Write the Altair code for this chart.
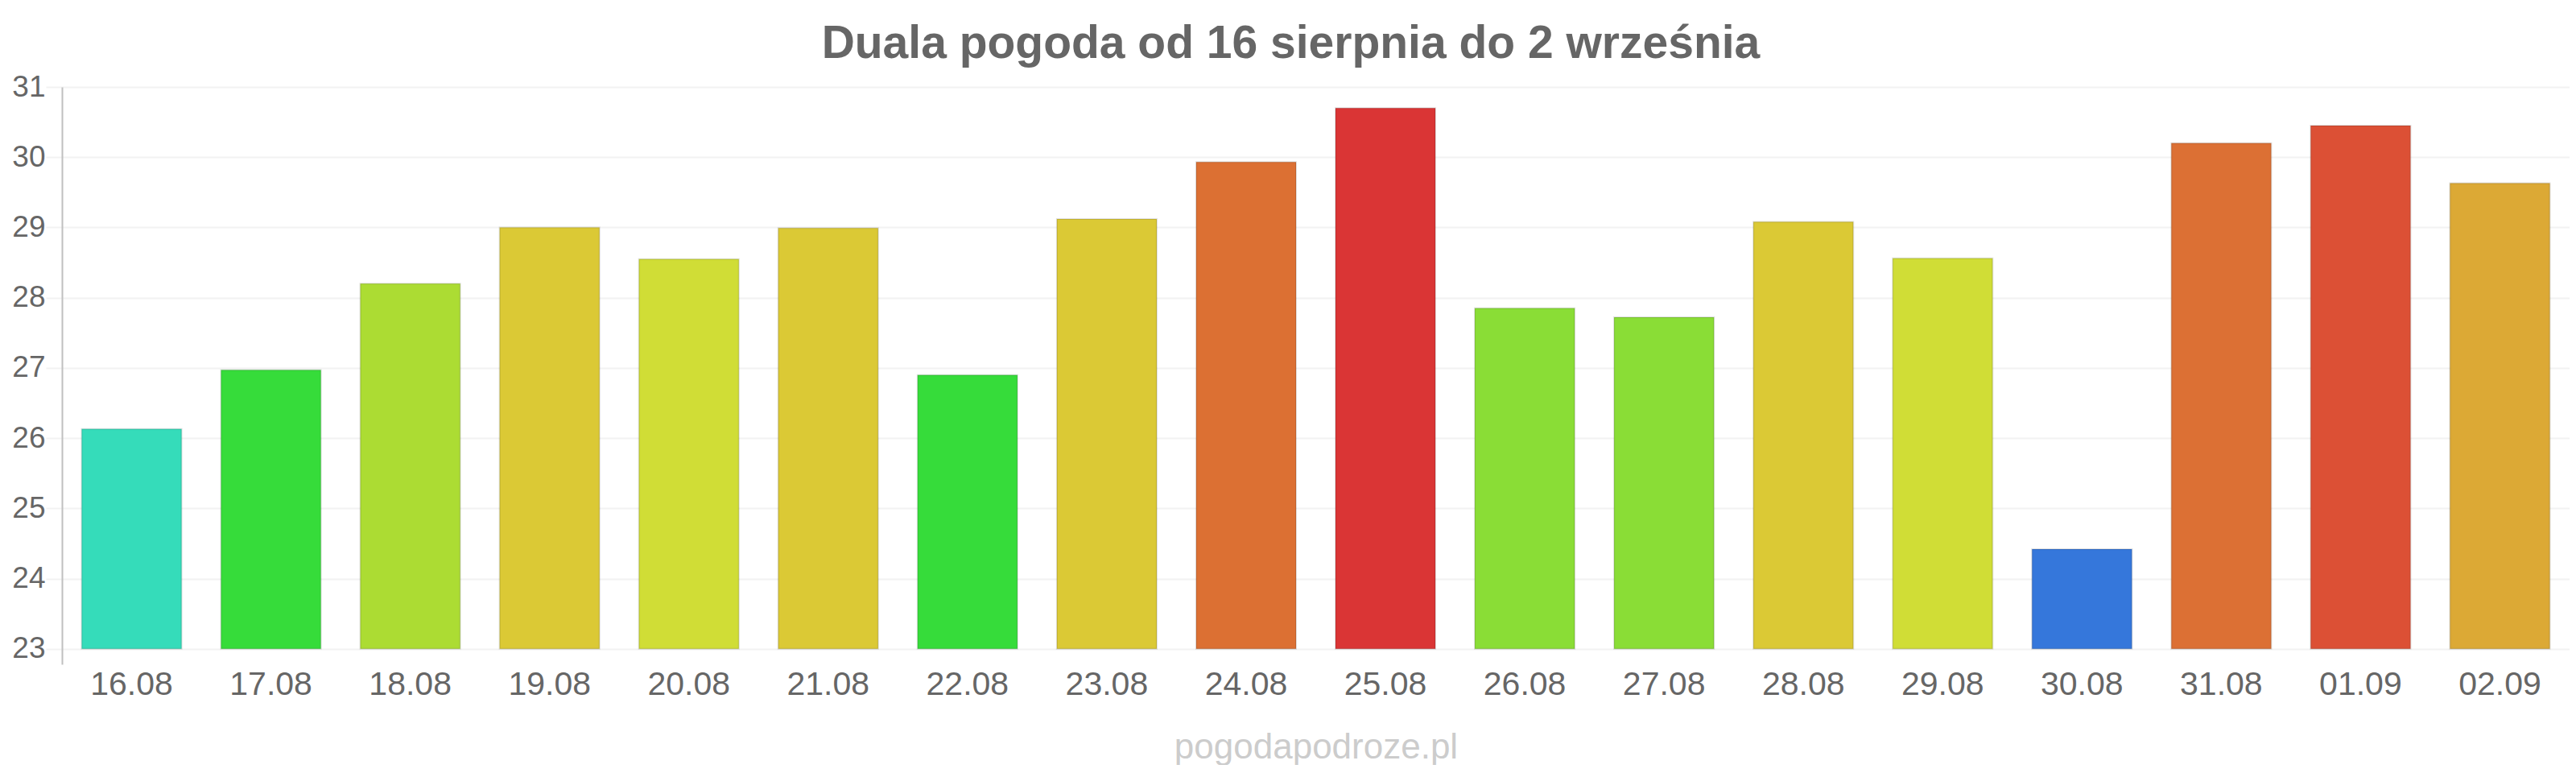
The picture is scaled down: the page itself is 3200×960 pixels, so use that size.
import altair as alt
import pandas as pd

days = ["16.08", "17.08", "18.08", "19.08", "20.08", "21.08", "22.08", "23.08", "24.08",
        "25.08", "26.08", "27.08", "28.08", "29.08", "30.08", "31.08", "01.09", "02.09"]
temps = [26.13, 26.97, 28.2, 29.0, 28.55, 28.99, 26.9, 29.12, 29.93,
         30.7, 27.85, 27.72, 29.08, 28.56, 24.42, 30.2, 30.45, 29.63]
colors = ["#35dcba", "#36dc3a", "#acdc33", "#dbc935", "#d0dd36", "#dbc935", "#36dc3a", "#dbc935", "#dc7033",
          "#da3535", "#8add36", "#8add36", "#dbc935", "#d0dd36", "#3577db", "#dc7034", "#dc5035", "#dca935"]
y_ticks = [23, 24, 25, 26, 27, 28, 29, 30, 31]

df = pd.DataFrame({"day": days, "temp": temps, "color": colors})

FONT = "Liberation Sans"

chart = alt.Chart(df).mark_bar(
    stroke="#000000", strokeOpacity=0.12, strokeWidth=2
).encode(
    x=alt.X("day:N", sort=days,
            scale=alt.Scale(paddingInner=0.283, paddingOuter=0.1415),
            axis=alt.Axis(title="pogodapodroze.pl", titleFont=FONT, titleFontSize=44,
                          titleFontWeight="normal", titleColor="#cccccc", titlePadding=36,
                          labelFont=FONT, labelFontSize=41, labelColor="#666666",
                          labelPadding=5, labelAngle=0, domain=False, ticks=False, grid=False)),
    y=alt.Y("temp:Q", scale=alt.Scale(domain=[22.78, 31], zero=False, nice=False),
            axis=alt.Axis(title=None, values=y_ticks, format="d",
                          labelFont=FONT, labelFontSize=37, labelColor="#666666", labelPadding=1,
                          grid=True, gridColor="#f2f2f2", gridWidth=2,
                          domain=True, domainColor="#c0c0c0", domainWidth=2,
                          ticks=True, tickColor="#f2f2f2", tickSize=20, tickWidth=2)),
    y2=alt.datum(23),
    fill=alt.Color("color:N", scale=None),
).properties(
    width=3115,
    height=717,
    background="white",
    padding={"left": 6, "top": 18, "right": 0, "bottom": 0},
    title=alt.TitleParams("Duala pogoda od 16 sierpnia do 2 września", font=FONT, fontSize=57,
                          fontWeight="bold", color="#666666", anchor="middle", frame="bounds",
                          offset=5),
).configure_view(stroke=None)

chart.save("out.html", embed_options={"renderer": "svg", "actions": False})
